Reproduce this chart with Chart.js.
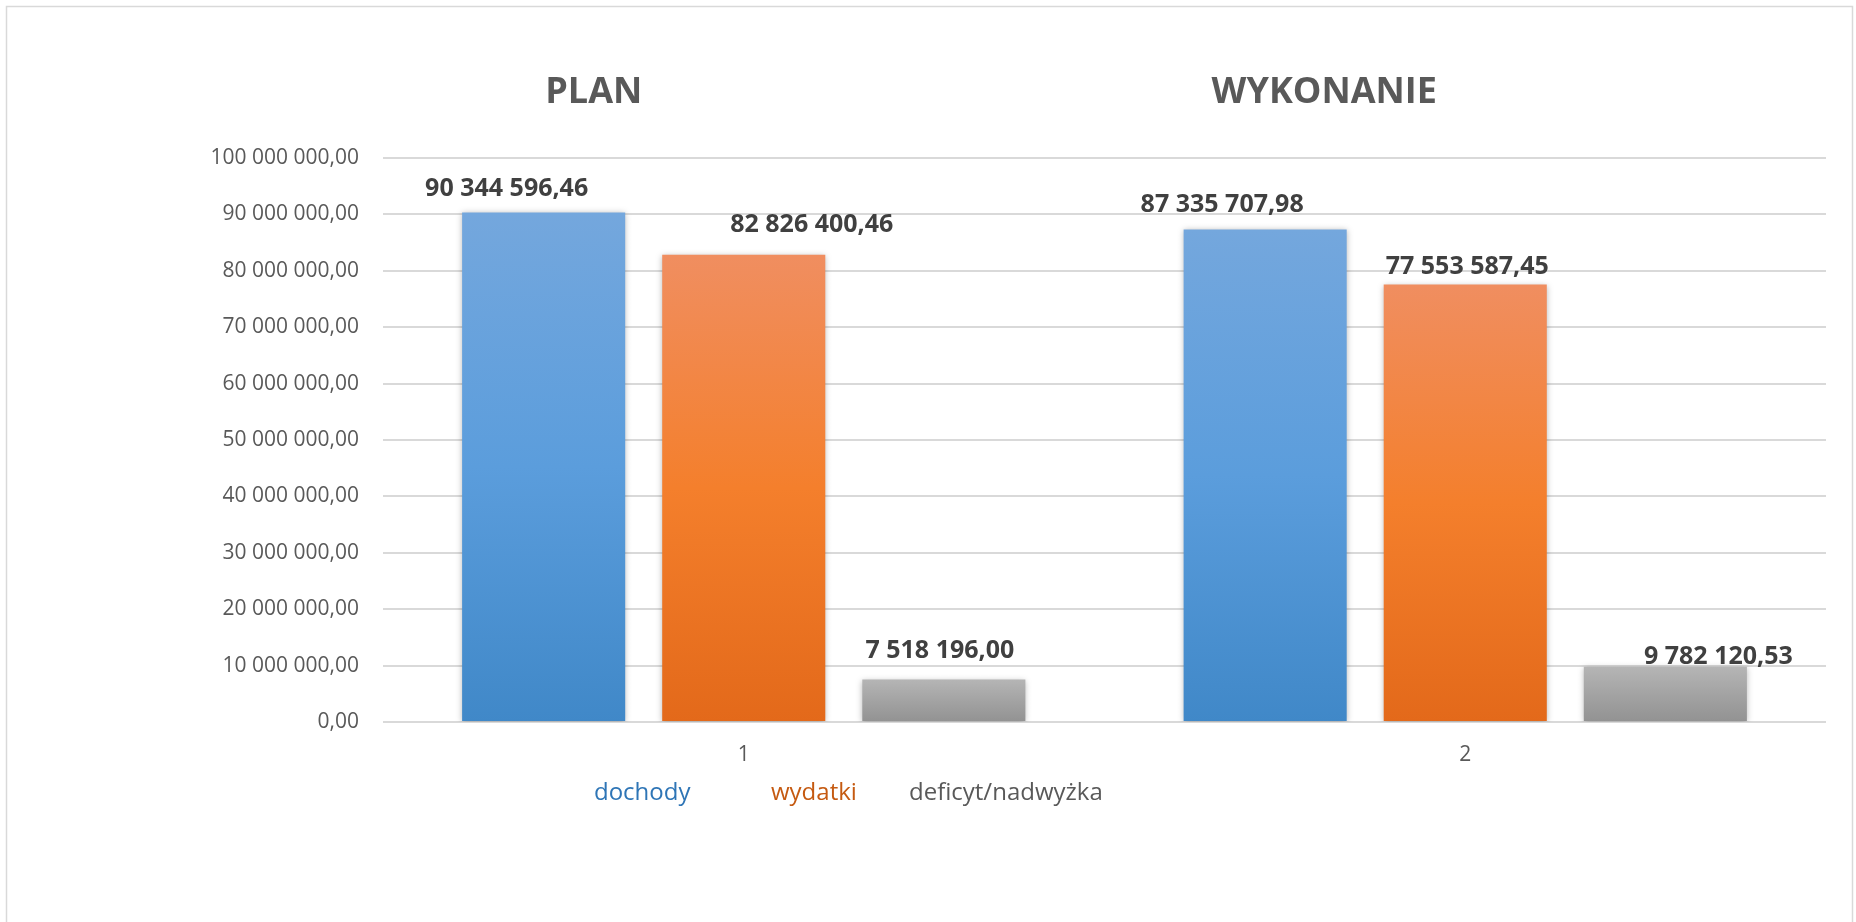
<!DOCTYPE html>
<html lang="pl">
<head>
<meta charset="utf-8">
<title>Plan i wykonanie budżetu</title>
<script src="https://cdn.jsdelivr.net/npm/chart.js@4"></script>
<style>
    html, body { margin: 0; padding: 0; background: #ffffff; }
    .chart-wrap { position: relative; width: 1856px; height: 922px; }
</style>
</head>
<body>
<div class="chart-wrap">
    <canvas id="budgetChart" width="1856" height="922"></canvas>
</div>
<script>
// Chart data
const categories = ['1', '2'];
const panelTitles = ['PLAN', 'WYKONANIE'];
const seriesNames = ['dochody', 'wydatki', 'deficyt/nadwyżka'];
const dochody = [90344596.46, 87335707.98];
const wydatki = [82826400.46, 77553587.45];
const deficyt = [7518196.00, 9782120.53];
const yMin = 0;
const yMax = 100000000;
const yStep = 10000000;

// Polish number format: "90 344 596,46"
function formatPl(value) {
    const parts = Number(value).toFixed(2).split('.');
    const intPart = parts[0].replace(/\B(?=(\d{3})+(?!\d))/g, ' ');
    return intPart + ',' + parts[1];
}

// vertical gradient for each bar, from its top to the baseline
function barGradient(stops) {
    return function(context) {
        const chart = context.chart;
        const yScale = chart.scales.y;
        if (!chart.chartArea || !yScale || context.parsed == null) {
            return stops[stops.length - 1];
        }
        const top = yScale.getPixelForValue(context.parsed.y);
        const base = yScale.getPixelForValue(0);
        const g = chart.ctx.createLinearGradient(0, top, 0, base);
        stops.forEach((c, i) => g.addColorStop(i / (stops.length - 1), c));
        return g;
    };
}

// Background, frame and bar shadows
const framePlugin = {
    id: 'frame',
    beforeDraw(chart) {
        const ctx = chart.ctx;
        ctx.save();
        ctx.fillStyle = '#ffffff';
        ctx.fillRect(0, 0, chart.width, chart.height);
        ctx.strokeStyle = '#d9d9d9';
        ctx.lineWidth = 1.5;
        ctx.strokeRect(6.5, 6.5, chart.width - 10, chart.height + 20);
        ctx.restore();
    },
    beforeDatasetsDraw(chart) {
        const ctx = chart.ctx;
        ctx.save();
        ctx.shadowColor = 'rgba(0, 0, 0, 0.28)';
        ctx.shadowBlur = 6;
        ctx.shadowOffsetX = 0;
        ctx.shadowOffsetY = 1;
    },
    afterDatasetsDraw(chart) {
        chart.ctx.restore();
    }
};

// Value labels above bars (manually nudged like in the original)
const valueLabelPlugin = {
    id: 'valueLabels',
    afterDatasetsDraw(chart, args, opts) {
        const ctx = chart.ctx;
        ctx.save();
        ctx.font = opts.font;
        ctx.fillStyle = opts.color;
        ctx.textAlign = 'center';
        ctx.textBaseline = 'middle';
        chart.data.datasets.forEach((ds, di) => {
            const meta = chart.getDatasetMeta(di);
            meta.data.forEach((bar, i) => {
                const off = (opts.offsets[di] || [])[i] || [0, 0];
                ctx.fillText(formatPl(ds.data[i]), bar.x + off[0], bar.y - opts.gap + off[1]);
            });
        });
        ctx.restore();
    }
};

// Panel titles and coloured text legend
const textPlugin = {
    id: 'panelText',
    afterDraw(chart, args, opts) {
        const ctx = chart.ctx;
        const xScale = chart.scales.x;
        ctx.save();
        ctx.font = opts.titleFont;
        ctx.fillStyle = opts.titleColor;
        ctx.textAlign = 'center';
        ctx.textBaseline = 'alphabetic';
        panelTitles.forEach((t, i) => {
            ctx.fillText(t, xScale.getPixelForValue(i) + opts.titleShift[i], opts.titleY);
        });
        ctx.font = opts.legendFont;
        ctx.textAlign = 'left';
        ctx.textBaseline = 'middle';
        chart.data.datasets.forEach((ds, i) => {
            ctx.fillStyle = opts.legendColors[i];
            ctx.fillText(ds.label, opts.legendX[i], opts.legendY);
        });
        ctx.restore();
    }
};

Chart.defaults.font.family = "'Open Sans', 'DejaVu Sans', sans-serif";

const ctx = document.getElementById('budgetChart');

new Chart(ctx, {
    type: 'bar',
    data: {
        labels: categories,
        datasets: [
            {
                label: seriesNames[0],
                data: dochody,
                backgroundColor: barGradient(['#74a7dd', '#5b9ddc', '#4088c8'])
            },
            {
                label: seriesNames[1],
                data: wydatki,
                backgroundColor: barGradient(['#f08e60', '#f47f2c', '#e3691a'])
            },
            {
                label: seriesNames[2],
                data: deficyt,
                backgroundColor: barGradient(['#b5b5b5', '#a3a3a3', '#929292'])
            }
        ]
    },
    options: {
        responsive: false,
        animation: false,
        categoryPercentage: 0.832,
        barPercentage: 0.815,
        layout: {
            padding: { top: 158, right: 30, bottom: 0, left: 0 }
        },
        plugins: {
            legend: { display: false },
            tooltip: { enabled: false },
            valueLabels: {
                font: "bold 25px 'Open Sans', sans-serif",
                color: '#404040',
                gap: 24,
                offsets: [
                    [[-37, 0], [-43, -1]],
                    [[68, -6], [2, 6]],
                    [[-4, -5], [53, 14]]
                ]
            },
            panelText: {
                titleFont: "bold 36px 'Open Sans', sans-serif",
                titleColor: '#595959',
                titleShift: [-150, -141],
                titleY: 103,
                legendFont: "24px 'Open Sans', sans-serif",
                legendColors: ['#2e75b6', '#c55a11', '#595959'],
                legendX: [594, 771, 909],
                legendY: 793
            }
        },
        scales: {
            x: {
                grid: { display: false, drawTicks: false },
                border: { display: false },
                ticks: {
                    color: '#595959',
                    padding: 20,
                    font: { size: 21 }
                },
                afterFit(scale) { scale.height = 200; }
            },
            y: {
                min: yMin,
                max: yMax,
                border: { display: false },
                grid: {
                    color: '#d9d9d9',
                    lineWidth: 2,
                    drawTicks: false
                },
                ticks: {
                    stepSize: yStep,
                    color: '#595959',
                    padding: 24,
                    font: { size: 21 },
                    callback: function(value) {
                        return formatPl(value);
                    }
                },
                afterFit(scale) { scale.width = 383; }
            }
        }
    },
    plugins: [framePlugin, valueLabelPlugin, textPlugin]
});
</script>
</body>
</html>
